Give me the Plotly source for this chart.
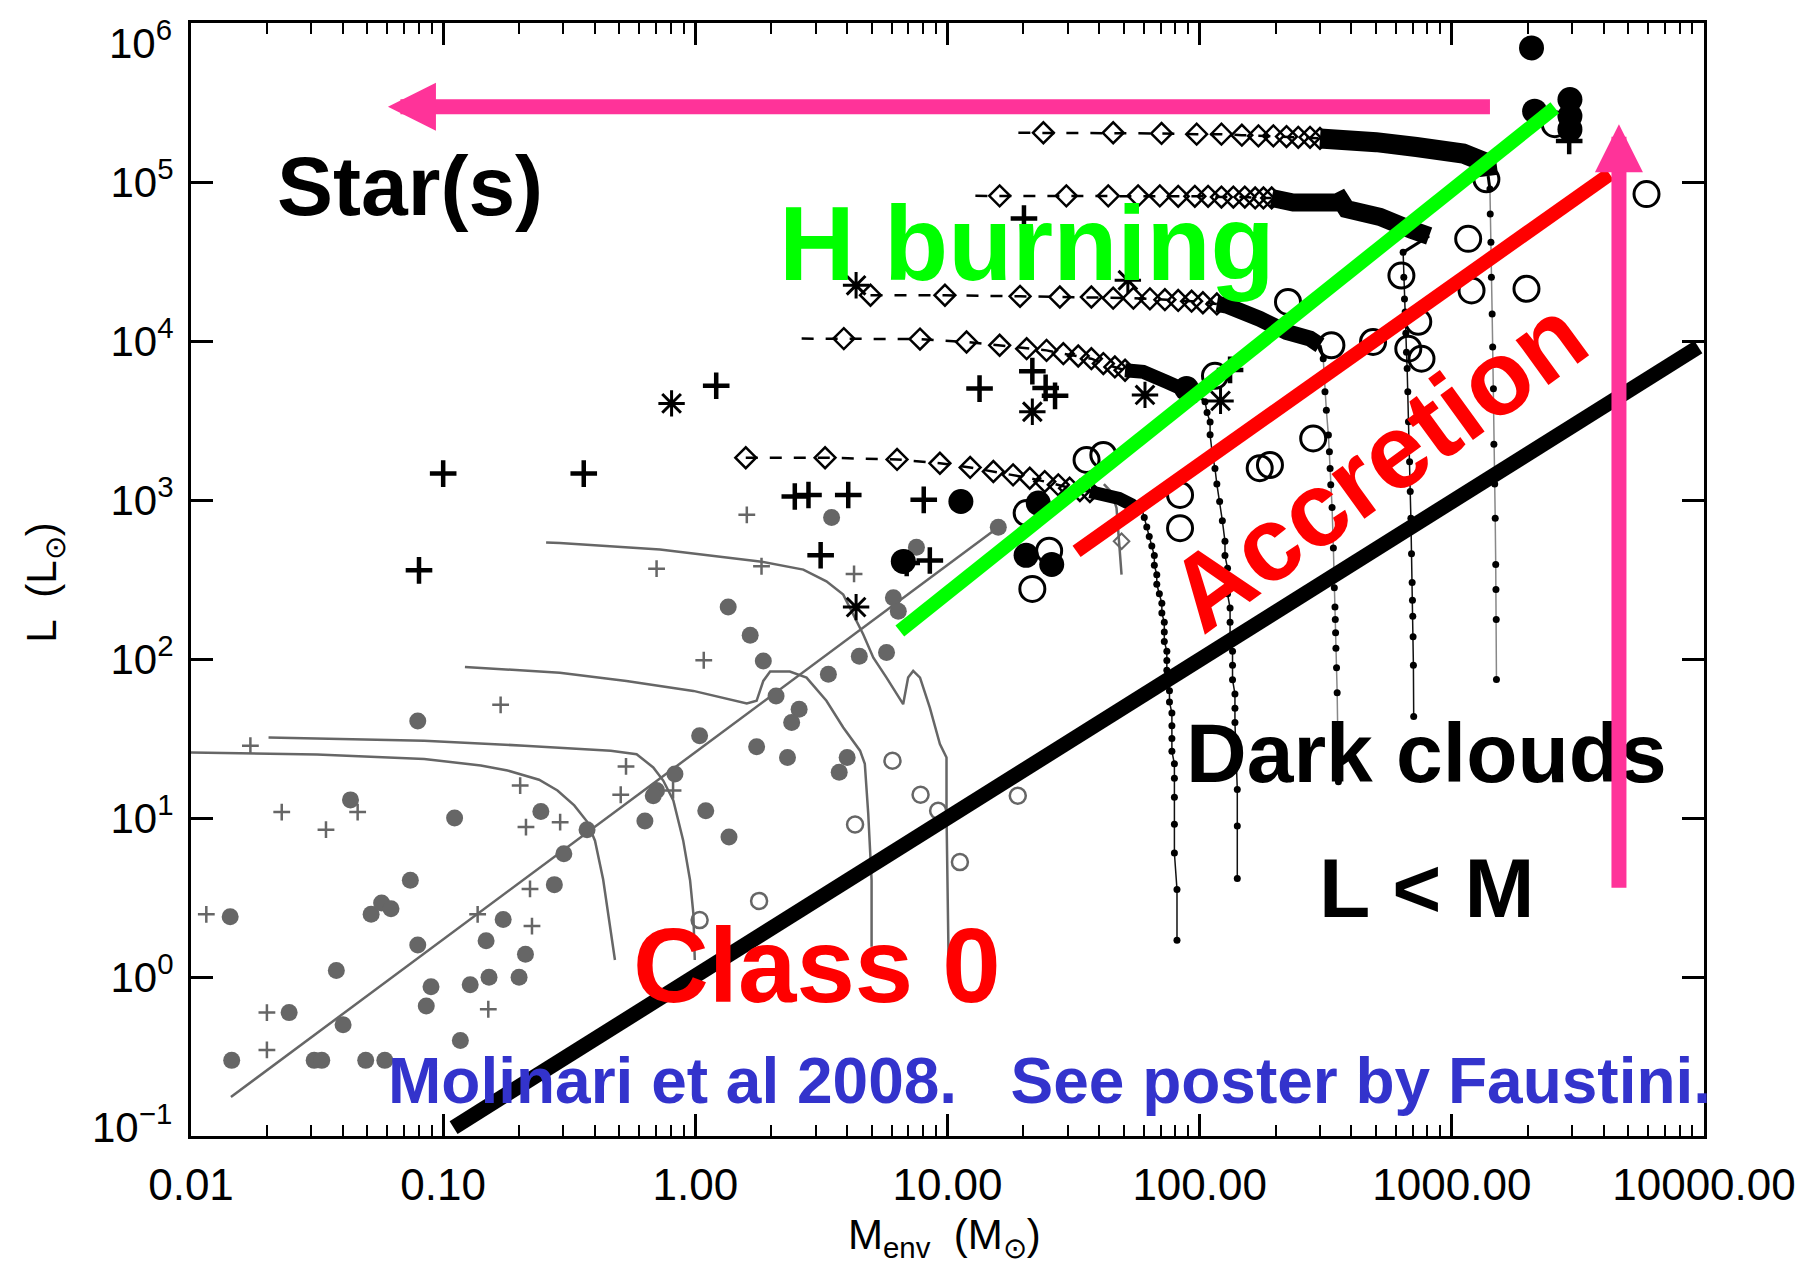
import math
import plotly.graph_objects as go

# ---------------- low-mass sample (grey) ----------------
lm_fill_M = [0.0793, 0.0429, 0.111, 0.244, 0.372, 0.301, 0.276, 0.0741, 0.0518, 0.0570, 0.0621, 0.0143,
             0.173, 0.0793, 0.148, 0.212, 0.0377, 0.152, 0.200, 0.0895, 0.128, 0.0857, 0.0245, 0.0401,
             0.117, 0.0145, 0.0308, 0.0330, 0.0493, 0.0587,
             1.35, 1.65, 1.86, 2.09, 2.58, 2.41, 3.37, 4.47, 5.73, 6.10, 6.38, 3.47, 1.04, 1.75, 2.32,
             4.00, 3.72, 0.830, 0.702, 0.681, 0.631, 1.10, 1.36, 15.9, 7.53]
lm_fill_L = [40.8, 13.0, 10.0, 11.0, 8.43, 5.96, 3.81, 4.06, 2.48, 2.92, 2.69, 2.39,
             2.30, 1.59, 1.69, 1.39, 1.10, 0.995, 0.995, 0.869, 0.895, 0.658, 0.597, 0.500,
             0.399, 0.299, 0.299, 0.299, 0.299, 0.299,
             212, 141, 97.0, 58.6, 48.3, 39.9, 80.2, 104, 110, 243, 200, 776, 32.9, 28.1, 24.0,
             24.0, 19.4, 18.9, 14.9, 13.8, 9.57, 11.1, 7.59, 673, 504]

lm_plus_M = [0.169, 0.0172, 0.202, 0.0229, 0.0458, 0.0343, 0.213, 0.291, 0.0115, 0.221, 0.137, 0.225,
             0.0200, 0.0200, 0.151, 1.60, 0.702, 1.83, 4.26, 1.08, 0.531, 0.506, 0.816]
lm_plus_L = [51.5, 28.5, 16.0, 10.9, 10.9, 8.44, 8.77, 9.42, 2.48, 3.58, 2.48, 2.09,
             0.597, 0.348, 0.627, 807, 370, 383, 343, 98.2, 21.1, 14.0, 14.9]

lm_open_M = [6.05, 7.82, 9.18, 4.30, 11.2, 1.79, 1.04, 19.0]
lm_open_L = [22.9, 14.0, 11.1, 9.10, 5.28, 3.01, 2.28, 13.8]

fit_M = [0.0144, 15.9]
fit_L = [0.176, 673]

# grey low-mass evolutionary tracks
t1_M = [0.0100, 0.0316, 0.0841, 0.141, 0.180, 0.240, 0.284, 0.331, 0.372, 0.400, 0.431, 0.458, 0.480]
t1_L = [25.8, 25.1, 23.5, 21.4, 19.9, 17.4, 14.9, 12.0, 9.5, 7.2, 4.1, 2.17, 1.28]
t2_M = [0.0203, 0.0841, 0.210, 0.462, 0.585, 0.681, 0.746, 0.818, 0.895, 0.953, 0.982, 0.995]
t2_L = [32.1, 30.6, 28.5, 26.5, 25.2, 20.8, 17.2, 12.9, 7.23, 4.06, 2.51, 1.28]
t3_M = [0.122, 0.290, 0.533, 0.982, 1.60, 1.75, 1.86, 1.98, 2.37, 2.76, 3.31, 3.86, 4.50, 4.70, 4.85, 5.00, 5.00]
t3_L = [89.1, 82.0, 72.8, 63.0, 52.5, 54.6, 72.8, 83.4, 83.4, 76.4, 54.6, 37.1, 26.5, 21.9, 10.6, 4.06, 1.55]
t4_M = [0.256, 0.290, 0.724, 1.80, 2.68, 3.31, 3.86, 4.23, 4.63, 5.08, 5.73, 6.67, 6.98, 7.31, 7.78, 8.51,
        9.33, 9.91, 9.91, 10.1]
t4_L = [541, 536, 488, 411, 365, 308, 254, 191, 143, 102, 76.4, 52.0, 76.4, 84.1, 76.4, 49.5,
        29.2, 24.0, 10.6, 1.28]
t5_M = [41.7, 44.7, 46.8, 47.9, 49.0]
t5_L = [1259, 1122, 891, 562, 339]
t5_dia_M = [49.0]
t5_dia_L = [550]

# ---------------- high-mass sample (black) ----------------
hm_plus_M = [1.21, 13.4, 21.7, 24.5, 26.7, 2.48, 2.81, 4.04, 8.05, 3.14, 8.51, 6.89, 0.100, 0.361,
             0.0802, 20.1, 132, 2920]
hm_plus_L = [5230, 5020, 6460, 5070, 4520, 1052, 1076, 1076, 1002, 449, 416, 402, 1466, 1466,
             361, 59000, 6580, 181000]
hm_star_M = [0.805, 21.7, 4.34, 4.34, 51.9, 60.7, 121]
hm_star_L = [4050, 3590, 212, 22400, 24100, 4580, 4200]
hm_fill_M = [11.3, 6.68, 22.9, 20.5, 25.9, 88.7, 2070, 2130, 2940, 2940, 2940]
hm_fill_L = [979, 411, 956, 449, 393, 5020, 697000, 279000, 330000, 260000, 214000]
hm_open_M = [20.6, 21.7, 25.3, 35.6, 41.5, 1371, 1161, 1197, 1977, 5916, 2560, 333, 487, 736, 672, 758,
             224, 282, 173, 190, 83.6, 83.6, 115, 631]
hm_open_L = [828, 276, 480, 1786, 1919, 104000, 43900, 20800, 21300, 83900, 231000, 9400, 9860, 13200,
             8950, 7740, 17600, 2440, 1585, 1660, 1076, 665, 6040, 25800]

# ---------------- massive protostar model tracks ----------------
# A
A_start_M = [1.585]
A_start_L = [1845]
A_dia_M = [1.585, 3.27, 6.31, 9.33, 12.3, 15.2, 18.2, 21.2, 24.3, 27.5, 30.5, 33.5, 36.7]
A_dia_L = [1845, 1845, 1799, 1702, 1603, 1510, 1439, 1371, 1306, 1245, 1186, 1148, 1130]
A_band_M = [36.7, 41.7, 47.9, 53.7, 57.5]
A_band_L = [1130, 1084, 1023, 933, 851]
A_dot_M = [58.9, 60.3, 61.7, 63.1, 64.6, 66.1, 66.1, 67.6, 67.6, 69.2, 70.8, 70.8, 72.4, 72.4, 72.4, 74.1,
           74.1, 74.1, 75.9, 75.9, 75.9, 77.6, 77.6, 77.6, 77.6, 79.4, 79.4, 79.4, 79.4, 79.4, 81.3, 81.3]
A_dot_L = [891, 776, 676, 589, 513, 447, 389, 339, 295, 257, 224, 195, 170, 148, 129, 112,
           97.7, 85.1, 74.1, 63.1, 53.7, 45.7, 38.0, 31.6, 26.3, 21.9, 17.8, 13.5, 9.12, 6.03, 3.55, 1.70]
# B
B_start_M = [2.64]
B_start_L = [10350]
B_dia_M = [3.88, 7.78, 11.9, 16.1, 20.6, 24.7, 28.8, 33.0, 37.2, 41.5, 46.1, 50.6]
B_dia_L = [10350, 10280, 9860, 9400, 8950, 8730, 8320, 8050, 7740, 7210, 6870, 6550]
B_band_M = [50.6, 59.7, 74.0, 88.7, 100]
B_band_L = [6550, 6400, 5530, 4790, 4470]
B_dot_M = [105, 107, 110, 110, 112, 115, 117, 120, 123, 126, 126, 129, 129, 129, 132, 132, 132,
           135, 135, 135, 138, 138, 138, 141, 141, 141]
B_dot_L = [4150, 3550, 3090, 2570, 2000, 1580, 1260, 977, 741, 550, 447, 372, 309, 257, 209, 170, 138,
           112, 91.2, 74.1, 60.3, 49.0, 39.8, 15.1, 8.91, 4.17]
# C
C_start_M = [4.95]
C_start_L = [19400]
C_dia_M = [4.95, 9.77, 19.4, 27.9, 37.2, 45.4, 54.6, 63.5, 72.8, 82.2, 92.9, 103, 117]
C_dia_L = [19400, 19400, 19100, 18900, 18900, 18600, 18600, 18400, 18200, 18000, 17800, 17400, 17100]
C_band_M = [117, 128, 173, 221, 274, 300]
C_band_L = [17100, 16700, 13800, 11400, 10350, 9400]
C_dot_M = [309, 312, 314, 318, 324, 327, 329, 331, 335, 339, 342, 344, 345, 346, 347, 349, 351, 355]
C_dot_L = [7740, 6030, 4790, 3670, 2560, 2010, 1580, 1245, 897, 499, 281, 212, 177, 146, 117, 88.1,
           61.4, 16.9]
# D
D_start_M = [12.9]
D_start_L = [81800]
D_dia_M = [16.1, 29.6, 43.4, 57.0, 69.5, 82.2, 95.7, 108, 122, 136, 151, 166, 179, 193]
D_dia_L = [81800, 81800, 81800, 81800, 81800, 81300, 81300, 81300, 80400, 80400, 80400, 79400,
           79400, 79400]
D_band_M = [193, 235, 349, 363, 382, 519, 692, 813]
D_band_L = [79400, 74300, 74300, 76600, 67600, 60300, 50100, 45700]
D_dot_M = [641, 645, 649, 653, 657, 661, 665, 669, 673, 676, 680, 684, 688, 692, 696, 698, 700, 702,
           704, 706]
D_dot_L = [36100, 25200, 18400, 15200, 11200, 8510, 6710, 4790, 3100, 2340, 1740, 1130, 769, 459, 303,
           234, 186, 138, 91.4, 43.5]
# E
E_start_M = [19.1]
E_start_L = [204000]
E_dia_M = [24.0, 45.4, 70.6, 97.3, 122, 147, 171, 196, 221, 246, 274, 300]
E_dia_L = [204000, 204000, 202000, 200000, 200000, 197000, 195000, 195000, 193000, 191000,
           191000, 188000]
E_band_M = [300, 394, 501, 724, 1109, 1371, 1393]
E_band_L = [188000, 186000, 178000, 166000, 151000, 132000, 109000]
E_dot_M = [1416, 1420, 1429, 1435, 1445, 1452, 1462, 1468, 1479, 1486, 1493, 1496, 1500, 1503]
E_dot_L = [90200, 62800, 41800, 25200, 14800, 9160, 5010, 2240, 1260, 767, 393, 274, 177, 74.3]

# ---------------- annotation lines ----------------
eq_M = [0.11, 9500]
eq_L = [0.113, 9170]
hburn_M = [6.47, 2560]
hburn_L = [150, 293000]
accr_M = [32.5, 4230]
accr_L = [475, 112000]
star_arrow_M = [1436, 0.0604]      # tail, tip
star_arrow_L = [297000, 297000]
cloud_arrow_M = [4600, 4600]
cloud_arrow_L = [3.56, 231000]

x_tick_vals = [0.01, 0.1, 1, 10, 100, 1000, 10000]
x_tick_text = ["0.01", "0.10", "1.00", "10.00", "100.00", "1000.00", "10000.00"]
y_tick_vals = [0.1, 1, 10, 100, 1000, 10000, 100000, 1000000]
y_tick_text = ["", "10<sup>0</sup>", "10<sup>1</sup>", "10<sup>2</sup>",
               "10<sup>3</sup>", "10<sup>4</sup>", "10<sup>5</sup>", ""]
y_end_labels = ["10<sup>\u22121</sup>", "10<sup>6</sup>"]

GREY = "#666666"
FONT = "Liberation Sans, Arial, sans-serif"

fig = go.Figure()


def line(M, L, color, width, dash="solid"):
    fig.add_trace(go.Scatter(x=M, y=L, mode="lines", line=dict(color=color, width=width, dash=dash),
                             hoverinfo="skip"))


def pts(M, L, symbol, size, color, lw=0, fill=None):
    mk = dict(symbol=symbol, size=size, color=color if fill is None else fill,
              line=dict(color=color, width=lw))
    fig.add_trace(go.Scatter(x=M, y=L, mode="markers", marker=mk, hoverinfo="skip"))


# grey tracks
for tm, tl in [(t1_M, t1_L), (t2_M, t2_L), (t3_M, t3_L), (t4_M, t4_L), (t5_M, t5_L)]:
    line(tm, tl, GREY, 2.5)
pts(t5_dia_M, t5_dia_L, "diamond-open", 12, GREY, 2)
line(fit_M, fit_L, GREY, 2.5)
pts(lm_fill_M, lm_fill_L, "circle", 17, GREY)
pts(lm_plus_M, lm_plus_L, "cross-thin-open", 12, GREY, 2.5)
pts(lm_open_M, lm_open_L, "circle-open", 16, GREY, 2.5)

# massive tracks
tracks = [
    (A_start_M, A_start_L, A_dia_M, A_dia_L, A_band_M, A_band_L, A_dot_M, A_dot_L, "#111111", 13),
    (B_start_M, B_start_L, B_dia_M, B_dia_L, B_band_M, B_band_L, B_dot_M, B_dot_L, "#111111", 14),
    (C_start_M, C_start_L, C_dia_M, C_dia_L, C_band_M, C_band_L, C_dot_M, C_dot_L, "#888888", 16),
    (D_start_M, D_start_L, D_dia_M, D_dia_L, D_band_M, D_band_L, D_dot_M, D_dot_L, "#111111", 18),
    (E_start_M, E_start_L, E_dia_M, E_dia_L, E_band_M, E_band_L, E_dot_M, E_dot_L, "#888888", 20),
]
for sm, sl, dm, dl, bm, bl, om, ol, vcol, bw in tracks:
    fig.add_trace(go.Scatter(x=om, y=ol, mode="lines+markers", line=dict(color=vcol, width=1.5),
                             marker=dict(symbol="circle", size=7, color="black"), hoverinfo="skip"))
    line([bm[-1], om[0]], [bl[-1], ol[0]], "black", 3)
    line(bm, bl, "black", bw)
    line(sm + dm, sl + dl, "black", 2.5, "12px,12px")
    pts(dm, dl, "diamond-open", 16, "black", 2.5)

# black sample
pts(hm_open_M, hm_open_L, "circle-open", 25, "black", 3)
pts(hm_fill_M, hm_fill_L, "circle", 25, "black")
pts(hm_plus_M, hm_plus_L, "cross-thin-open", 19, "black", 4.5)
pts(hm_star_M, hm_star_L, "asterisk-open", 22, "black", 3)

# colored diagnostic lines
line(eq_M, eq_L, "black", 15)
line(hburn_M, hburn_L, "#00FF00", 14)
line(accr_M, accr_L, "#FF0000", 14)

lg = math.log10
annotations = []


def txt(text, x, y, size, color, angle=0):
    annotations.append(dict(text="<b>%s</b>" % text, x=x, y=y, xref="x", yref="y", showarrow=False,
                            font=dict(family=FONT, size=size, color=color), textangle=angle,
                            xanchor="center", yanchor="middle"))


txt("Star(s)", -1.132, 4.972, 84, "black")
txt("H burning", 1.315, 4.614, 105, "#00FF00")
txt("Accretion", 2.703, 3.223, 105, "#FF0000", -36)
txt("Dark clouds", 2.901, 1.411, 84, "black")
txt("L &lt; M", 2.901, 0.558, 84, "black")
txt("Class 0", 0.482, 0.075, 105, "#FF0000")
txt("Molinari et al 2008.\u00a0\u00a0\u00a0See poster by Faustini.", 1.406, -0.652, 64, "#3333CC")

for am, al in [(star_arrow_M, star_arrow_L), (cloud_arrow_M, cloud_arrow_L)]:
    annotations.append(dict(x=lg(am[1]), y=lg(al[1]), ax=lg(am[0]), ay=lg(al[0]), xref="x", yref="y",
                            axref="x", ayref="y", text="", showarrow=True, arrowhead=2, arrowsize=0.64,
                            arrowwidth=15, arrowcolor="#FF3399", standoff=0, startstandoff=0))

# end tick labels of the y axis, nudged inside the frame as in the original figure
annotations.append(dict(text=y_end_labels[0], x=-0.0112, y=0.0105, xref="paper", yref="paper",
                        showarrow=False, xanchor="right", yanchor="middle",
                        font=dict(family=FONT, size=42, color="black")))
annotations.append(dict(text=y_end_labels[1], x=-0.0112, y=1.011, xref="paper", yref="paper",
                        showarrow=False, xanchor="right", yanchor="top",
                        font=dict(family=FONT, size=42, color="black")))

annotations.append(dict(text="M<sub>env</sub>  (M<sub>\u2299</sub>)", x=0.498, y=-0.0914, xref="paper",
                        yref="paper", showarrow=False, xanchor="center", yanchor="middle",
                        font=dict(family=FONT, size=42, color="black")))
annotations.append(dict(text="L  (L<sub>\u2299</sub>)", x=-0.0965, y=0.497, xref="paper", yref="paper",
                        showarrow=False, xanchor="center", yanchor="middle", textangle=-90,
                        font=dict(family=FONT, size=42, color="black")))

minor_vals = [m * 10.0 ** e for e in range(-2, 4) for m in range(2, 10)]

fig.update_layout(
    width=1806, height=1262,
    margin=dict(l=183, r=110, t=12, b=134),
    paper_bgcolor="white", plot_bgcolor="white",
    showlegend=False,
    annotations=annotations,
    shapes=[dict(type="line", xref="paper", yref="paper", x0=1.0707, x1=1.0707, y0=-0.125, y1=1.02,
                 line=dict(color="#1a1a80", width=3))],
    xaxis=dict(type="log", range=[-2, 4], tickmode="array", tickvals=x_tick_vals, ticktext=x_tick_text,
               ticks="inside", ticklen=22, tickwidth=2.5, tickcolor="black",
               minor=dict(tickvals=minor_vals, ticks="inside", ticklen=11, tickwidth=2, tickcolor="black",
                          showgrid=False),
               showline=True, linewidth=3, linecolor="black", mirror="ticks", showgrid=False,
               zeroline=False, ticklabelstandoff=8, ticklabeloverflow="allow",
               tickfont=dict(family=FONT, size=44, color="black")),
    yaxis=dict(type="log", range=[-1, 6], tickmode="array", tickvals=y_tick_vals, ticktext=y_tick_text,
               ticks="inside", ticklen=22, tickwidth=2.5, tickcolor="black",
               showline=True, linewidth=3, linecolor="black", mirror="ticks", showgrid=False,
               zeroline=False, ticklabelstandoff=6,
               tickfont=dict(family=FONT, size=42, color="black")),
)

fig.write_html("out.html")
